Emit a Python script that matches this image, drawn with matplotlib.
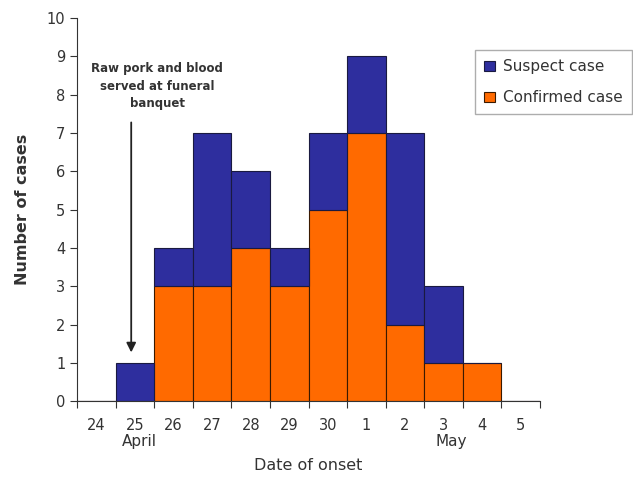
import numpy as np
import matplotlib
matplotlib.use("Agg")
import matplotlib.pyplot as plt

days = ["24", "25", "26", "27", "28", "29", "30", "1", "2", "3", "4", "5"]
confirmed = [0, 0, 3, 3, 4, 3, 5, 7, 2, 1, 1, 0]
suspect = [0, 1, 1, 4, 2, 1, 2, 2, 5, 2, 0, 0]

navy = "#2E2E9E"
orange = "#FF6A00"
grey = "#333333"

fig = plt.figure(figsize=(6.33, 4.91), dpi=100)
ax = fig.add_axes([0.122, 0.183, 0.731, 0.78])

x = np.arange(len(days))
ax.bar(x, confirmed, width=1, align="edge", color=orange, edgecolor="#3a1a00", linewidth=0.8,
       label="Confirmed case")
ax.bar(x, suspect, width=1, align="edge", bottom=confirmed, color=navy, edgecolor="#1a1a40",
       linewidth=0.8, label="Suspect case")

ax.set_xlim(0, len(days))
ax.set_ylim(0, 10)
ax.set_yticks(range(0, 11))
ax.set_xticks(np.arange(len(days) + 1))
ax.set_xticklabels([])
ax.set_xticks(x + 0.5, minor=True)
ax.set_xticklabels(days, minor=True)
ax.tick_params(axis="x", which="minor", length=0, pad=12, labelsize=10.5, labelcolor=grey)
ax.tick_params(axis="x", which="major", length=5, direction="out", color=grey)
ax.tick_params(axis="y", length=5, labelsize=10.5, labelcolor=grey, color=grey)
for s in ["top", "right"]:
    ax.spines[s].set_visible(False)
for s in ["left", "bottom"]:
    ax.spines[s].set_color(grey)

ax.text(1.6, -0.85, "April", ha="center", va="top", fontsize=11, color=grey)
ax.text(9.7, -0.85, "May", ha="center", va="top", fontsize=11, color=grey)
ax.set_xlabel("Date of onset", fontsize=11.5, color=grey, labelpad=18)
ax.set_ylabel("Number of cases", fontsize=11.5, fontweight="bold", color=grey, labelpad=12)

ax.annotate("", xy=(1.4, 1.2), xytext=(1.4, 7.35),
            arrowprops=dict(arrowstyle="-|>", color="#222222", lw=1.3, mutation_scale=14))
ax.text(2.07, 8.22, "Raw pork and blood\nserved at funeral\nbanquet", ha="center", va="center",
        fontsize=8.5, fontweight="bold", color=grey, linespacing=1.45)

handles, labels = ax.get_legend_handles_labels()
leg = fig.legend(handles[::-1], labels[::-1], loc="upper right", bbox_to_anchor=(0.998, 0.898),
                 borderaxespad=0, fontsize=11, handlelength=0.7, handleheight=0.7,
                 handletextpad=0.5, fancybox=False, edgecolor="#999999", labelspacing=1.05,
                 borderpad=0.6)
for t in leg.get_texts():
    t.set_color(grey)

fig.savefig("out.png", dpi=100)
